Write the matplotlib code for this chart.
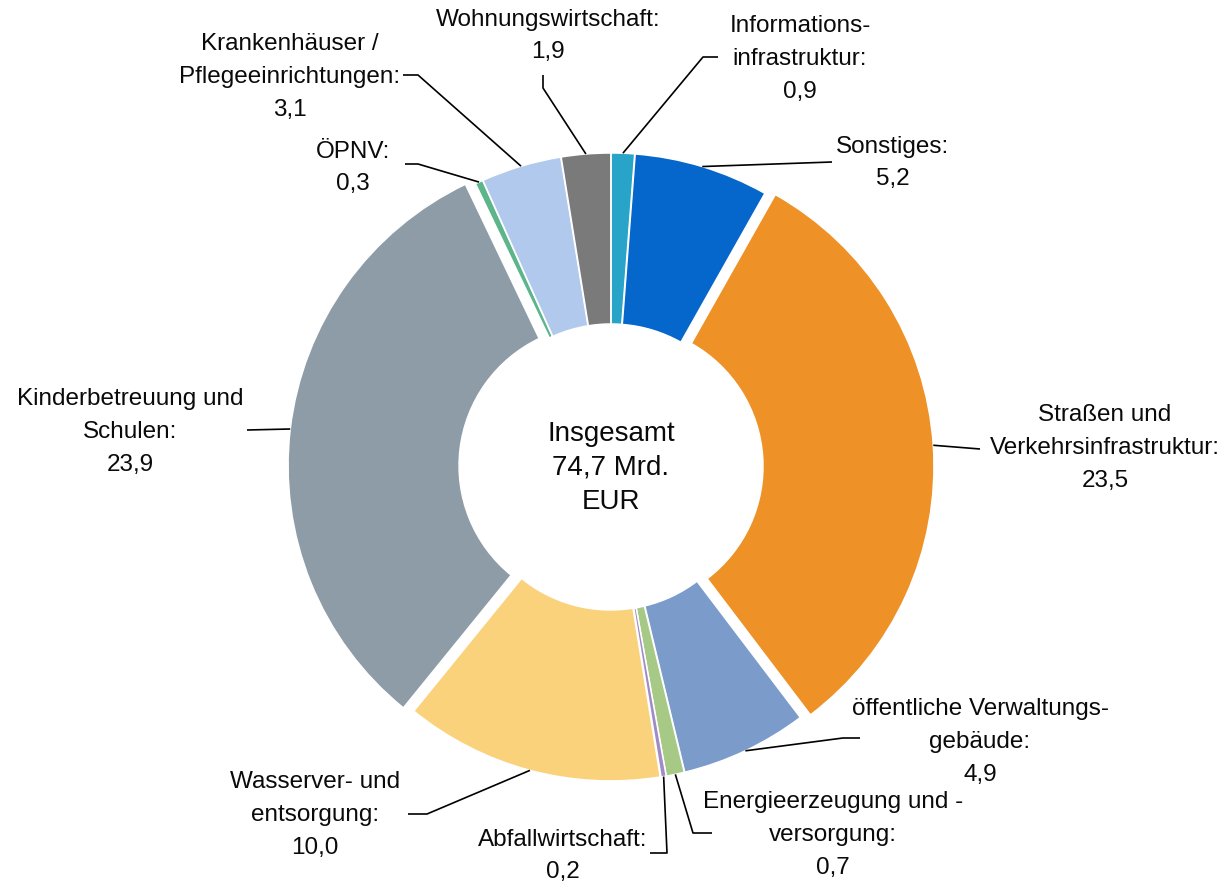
import matplotlib.pyplot as plt
import numpy as np

plt.rcParams["font.family"] = ["Liberation Sans", "DejaVu Sans"]

# clockwise from 12 o'clock
labels = [
    "Informations-\ninfrastruktur:",
    "Sonstiges:",
    "Straßen und\nVerkehrsinfrastruktur:",
    "öffentliche Verwaltungs-\ngebäude:",
    "Energieerzeugung und -\nversorgung:",
    "Abfallwirtschaft:",
    "Wasserver- und\nentsorgung:",
    "Kinderbetreuung und\nSchulen:",
    "ÖPNV:",
    "Krankenhäuser /\nPflegeeinrichtungen:",
    "Wohnungswirtschaft:",
]
values = [0.9, 5.2, 23.5, 4.9, 0.7, 0.2, 10.0, 23.9, 0.3, 3.1, 1.9]
total_label = "Insgesamt\n74,7 Mrd.\nEUR"

colors = ["#27a4c8", "#0566cc", "#ee9127", "#7b9bcb", "#a6c985", "#a18bc6",
          "#f9d27b", "#8e9ca7", "#5cb58b", "#b2c9ee", "#7a7a7a"]
explode = [2, 2, 11, 2, 2, 2, 2, 11, 2, 2, 2]

# layout in pixels (y down): text centre, then leader points after the wedge
label_pos = [
    (800, 59), (893, 163), (1105, 448), (980, 742), (833, 835), (563, 856),
    (315, 815), (130, 432), (353, 168), (290, 77), (548, 36),
]
leader_pts = [
    [(703, 57), (718, 57)],
    [(832, 162)],
    [(980, 449)],
    [(843, 738), (860, 738)],
    [(693, 833), (712, 833)],
    [(667, 853), (650, 853)],
    [(427, 814), (408, 814)],
    [(247, 430)],
    [(418, 164), (405, 164)],
    [(418, 75), (403, 75)],
    [(543, 88), (543, 75)],
]

CX, CY, R, W = 611, 467, 312, 171

fig = plt.figure(figsize=(12.27, 8.83), dpi=100)
ax = fig.add_axes([0, 0, 1, 1])
wedges, _ = ax.pie(values, colors=colors, radius=R, center=(CX, CY),
                   startangle=-90, counterclock=True, explode=explode,
                   wedgeprops=dict(width=W, edgecolor="white", linewidth=1.1))
ax.set_xlim(0, 1227)
ax.set_ylim(883, 0)
ax.set_aspect("equal")
ax.axis("off")

for w, lab, val, (tx, ty), pts in zip(wedges, labels, values, label_pos, leader_pts):
    mid = np.deg2rad((w.theta1 + w.theta2) / 2)
    sx = w.center[0] + R * np.cos(mid)
    sy = w.center[1] + R * np.sin(mid)
    xs = [sx] + [p[0] for p in pts]
    ys = [sy] + [p[1] for p in pts]
    ax.plot(xs, ys, color="black", lw=1.2, solid_capstyle="butt")
    txt = f"{lab}\n{val:.1f}".replace(".", ",")
    ax.text(tx, ty, txt, ha="center", va="center", fontsize=17.5,
            linespacing=1.62, color="#0a0a0a")

ax.text(CX, 468, total_label, ha="center", va="center", fontsize=20,
        linespacing=1.4, color="#0a0a0a")

fig.savefig("out.png", dpi=100)
